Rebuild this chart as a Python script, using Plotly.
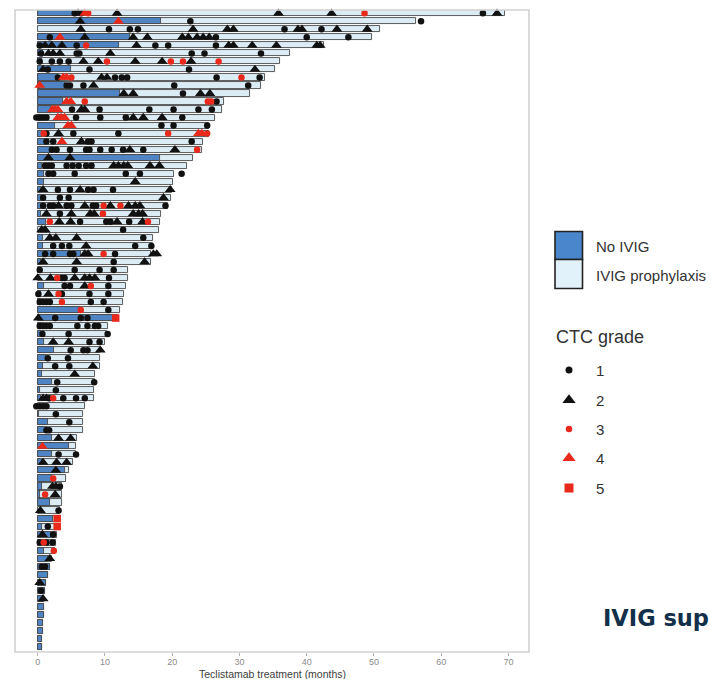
import plotly.graph_objects as go

# Swimmer plot: teclistamab treatment duration per patient, IVIG status and infection events
patients = list(range(1, 81))

treatment_months = [
    69.5, 56.3, 50.9, 49.7, 42.5, 37.5, 36.0, 35.3, 33.8, 33.2,
    31.5, 27.7, 27.4, 26.4, 25.5, 25.4, 24.6, 24.4, 23.1, 22.2,
    20.2, 20.1, 20.0, 19.8, 19.4, 18.4, 18.2, 18.0, 17.2, 17.1,
    16.9, 16.9, 13.5, 13.4, 13.1, 12.9, 12.7, 12.2, 12.0, 10.4,
    10.3, 10.0, 9.3, 9.3, 9.3, 8.5, 8.5, 8.3, 8.3, 7.0,
    6.8, 6.7, 6.7, 5.8, 5.7, 5.7, 5.2, 4.7, 4.2, 3.6,
    3.6, 3.6, 3.3, 3.3, 3.3, 2.9, 2.7, 2.6, 2.2, 1.8,
    1.6, 1.2, 1.1, 1.0, 0.9, 0.9, 0.8, 0.8, 0.7, 0.7,
]

# months before IVIG prophylaxis started (whole bar if never started)
no_ivig_months = [
    6.0, 18.3, 0.0, 13.7, 12.1, 0.8, 0.6, 4.9, 3.0, 4.0,
    12.2, 3.7, 2.0, 0.5, 2.5, 0.7, 1.2, 2.0, 18.2, 0.7,
    1.0, 1.0, 0.5, 0.7, 0.6, 0.5, 1.3, 0.0, 0.8, 0.8,
    6.5, 0.5, 0.0, 0.0, 0.9, 0.5, 0.5, 6.3, 11.2, 0.6,
    0.6, 0.9, 2.4, 1.2, 0.8, 0.7, 2.1, 0.3, 0.5, 0.0,
    0.2, 1.6, 1.3, 2.1, 4.6, 2.2, 0.6, 4.1, 2.2, 0.6,
    0.3, 1.8, 0.0, 2.3, 0.6, 2.0, 0.5, 1.0, 1.5, 1.8,
    1.6, 1.2, 1.1, 1.0, 0.9, 0.9, 0.8, 0.8, 0.7, 0.7,
]

# infection events as (patient, month) for each CTC grade
grade1_events = [
    (1, 5.5), (1, 6.5), (1, 66.2),
    (2, 22.7), (2, 57.0),
    (3, 10.6), (3, 13.7), (3, 14.9), (3, 36.7), (3, 42.2),
    (4, 1.8), (4, 26.5), (4, 40.0), (4, 46.2),
    (5, 0.3), (5, 5.8), (5, 17.5), (5, 19.4), (5, 26.5),
    (6, 0.5), (6, 5.8), (6, 6.2), (6, 22.9), (6, 24.8), (6, 33.2),
    (7, 0.3), (7, 2.1), (7, 3.3), (7, 4.6),
    (8, 1.5), (8, 7.7), (8, 22.5),
    (9, 3.0), (9, 11.5), (9, 12.5), (9, 13.3), (9, 26.6), (9, 33.0),
    (10, 4.3), (10, 4.8), (10, 6.8), (10, 20.3), (10, 31.3),
    (11, 21.6),
    (12, 26.6),
    (13, 5.1), (13, 9.2), (13, 16.6), (13, 20.2), (13, 23.9), (13, 25.9),
    (14, -0.2), (14, 0.3), (14, 0.8), (14, 1.3), (14, 5.7), (14, 9.3), (14, 13.1), (14, 21.5),
    (15, 18.4), (15, 20.2), (15, 25.2),
    (16, 1.3), (16, 5.3), (16, 12.0),
    (17, 1.3), (17, 2.3), (17, 7.5), (17, 8.0), (17, 22.9),
    (18, 2.1), (18, 2.8), (18, 4.8), (18, 7.2), (18, 7.7), (18, 9.3), (18, 11.0), (18, 12.7), (18, 15.7),
    (20, 1.1), (20, 1.6), (20, 2.1), (20, 4.3), (20, 5.2), (20, 6.1), (20, 7.2), (20, 8.0),
    (21, 1.6), (21, 2.3), (21, 5.5), (21, 13.1), (21, 15.2), (21, 21.4),
    (23, 3.0), (23, 4.8), (23, 7.5), (23, 8.3), (23, 11.2),
    (24, 0.8), (24, 3.3), (24, 4.6),
    (25, 0.8), (25, 1.8), (25, 2.3), (25, 4.3), (25, 5.0), (25, 8.2), (25, 8.7), (25, 19.0),
    (26, 3.3),
    (27, 6.3), (27, 10.2), (27, 10.8), (27, 13.6),
    (28, 12.7),
    (29, 15.7),
    (30, 2.3), (30, 3.6), (30, 4.7), (30, 14.5), (30, 16.9),
    (31, 1.1), (31, 2.3), (31, 4.8), (31, 5.3), (31, 11.5),
    (32, 11.3),
    (33, 0.3), (33, 5.5), (33, 9.2), (33, 11.3),
    (34, 3.6), (34, 4.0), (34, 10.6),
    (35, 4.0), (35, 4.8), (35, 10.5),
    (36, 0.1), (36, 3.6), (36, 7.7), (36, 10.5),
    (37, 0.3), (37, 0.8), (37, 1.3), (37, 1.8), (37, 7.9), (37, 9.8),
    (38, 10.5),
    (39, 2.6), (39, 6.4), (39, 7.4),
    (40, 0.3), (40, 0.8), (40, 1.3), (40, 1.8), (40, 5.9), (40, 7.4), (40, 8.5), (40, 9.0),
    (41, 0.7), (41, 4.6), (41, 10.4),
    (42, 7.7), (42, 9.2),
    (43, 4.9), (43, 6.8), (43, 7.4),
    (44, 1.5), (44, 4.5),
    (45, 2.6), (45, 4.7),
    (47, 2.9), (47, 8.4),
    (48, 2.7),
    (49, 1.7), (49, 3.8), (49, 5.7), (49, 7.0),
    (50, -0.2), (50, 0.3), (50, 0.8), (50, 1.3),
    (51, 2.7),
    (52, 4.7),
    (53, 1.3), (53, 1.7),
    (56, 3.1), (56, 5.7),
    (60, 3.3),
    (63, 3.1),
    (65, 1.5),
    (66, 2.3),
    (67, 0.3), (67, 1.3), (67, 2.2),
    (70, 0.6), (70, 1.1),
    (73, 0.5),
]

grade2_events = [
    (1, 6.0), (1, 11.8), (1, 35.8), (1, 43.7), (1, 68.3),
    (2, 6.3),
    (3, 6.4), (3, 23.1), (3, 28.2), (3, 29.1), (3, 38.7), (3, 39.3), (3, 44.5), (3, 49.0),
    (4, 7.0), (4, 14.2), (4, 16.3), (4, 21.5), (4, 22.4), (4, 23.7), (4, 24.6), (4, 25.5),
    (5, 1.1), (5, 2.1), (5, 3.6), (5, 14.7), (5, 28.4), (5, 29.1), (5, 31.9), (5, 35.5), (5, 41.5), (5, 42.0),
    (6, 1.6), (6, 2.3), (6, 3.3), (6, 10.8),
    (7, 6.8), (7, 9.0), (7, 14.5), (7, 18.5), (7, 22.8),
    (8, 0.8), (8, 32.3),
    (9, 9.5), (9, 10.3),
    (10, 8.3),
    (11, 12.8), (11, 14.2), (11, 24.2), (11, 25.6),
    (13, 6.5), (13, 7.0),
    (14, 14.2), (14, 15.7), (14, 18.5),
    (16, 3.1),
    (17, 6.5),
    (18, 13.7), (18, 20.4),
    (19, 1.6), (19, 4.8),
    (20, 11.3), (20, 12.0), (20, 12.8), (20, 13.4), (20, 16.7), (20, 18.1),
    (22, 14.5),
    (23, 0.8), (23, 6.3), (23, 19.7),
    (24, 18.7),
    (25, 3.1), (25, 7.0), (25, 10.8), (25, 13.5), (25, 14.5), (25, 15.2),
    (26, 1.3), (26, 5.0), (26, 7.8), (26, 8.4), (26, 14.2), (26, 15.0), (26, 15.6),
    (27, 3.2), (27, 4.9), (27, 11.8), (27, 15.6),
    (28, 0.6), (28, 1.1),
    (29, 1.8), (29, 2.7), (29, 5.8),
    (30, 7.2),
    (31, 7.0), (31, 7.5), (31, 17.2), (31, 17.7),
    (32, 0.8), (32, 5.8), (32, 15.9),
    (34, 0.0), (34, 1.9), (34, 5.5), (34, 7.0), (34, 7.7), (34, 8.5),
    (35, 7.0),
    (36, 1.6),
    (39, 0.1),
    (42, 2.3), (42, 4.6),
    (43, 9.3),
    (45, 8.2),
    (46, 5.5),
    (49, 0.8), (49, 1.3),
    (54, 3.1), (54, 4.9),
    (57, 0.8), (57, 2.8), (57, 4.3),
    (58, 2.7),
    (60, 2.2), (60, 2.7),
    (61, 2.6),
    (63, 0.4),
    (66, 0.7),
    (69, 1.8),
    (72, 0.3),
    (74, 0.8),
]

grade3_events = [
    (1, 7.5), (1, 48.6),
    (5, 7.2),
    (7, 10.3), (7, 19.8), (7, 21.6), (7, 26.9),
    (9, 5.0), (9, 30.3),
    (12, 7.0), (12, 25.3), (12, 25.8),
    (16, 0.9), (16, 19.4), (16, 25.2),
    (18, 23.7),
    (25, 9.8), (25, 12.3),
    (26, 9.7),
    (27, 1.8), (27, 16.4),
    (31, 9.8),
    (34, 2.9),
    (35, 7.9),
    (36, 3.1),
    (37, 3.6),
    (38, 6.4),
    (49, 2.3),
    (59, 2.3),
    (61, 1.1),
    (67, 0.9),
    (68, 2.4),
]

grade4_events = [
    (1, 7.0),
    (2, 12.0),
    (4, 3.3),
    (9, 3.8), (9, 4.3),
    (10, 0.3),
    (12, 4.3), (12, 4.9),
    (13, 2.2), (13, 2.6), (13, 3.0),
    (14, 3.0), (14, 3.5), (14, 4.0),
    (15, 4.5), (15, 5.0),
    (16, 23.9), (16, 24.4),
    (17, 3.6),
    (55, 0.7),
]

grade5_events = [
    (39, 11.6),
    (64, 2.9),
    (65, 2.9),
]

x_ticks = [0, 10, 20, 30, 40, 50, 60, 70]

grade_labels = ["1", "2", "3", "4", "5"]
grade_symbols = ["circle", "triangle-up", "circle", "triangle-up", "square"]
grade_colors = ["#111111", "#111111", "#e8291c", "#e8291c", "#e8291c"]
plot_sizes = [6.5, 9.5, 6.5, 9.5, 7.5]
key_sizes = [7, 11.5, 6.5, 11.5, 9]

NO_IVIG = "#4f85c4"
IVIG = "#dcecf5"
OUTLINE = "#4a4a4a"

W, H = 711, 679
PL, PR, PT, PB = 15, 529, 10, 652  # panel edges in pixels

fig = go.Figure()

# full treatment bar (IVIG prophylaxis colour), then the pre-IVIG segment on top
fig.add_trace(go.Bar(
    y=patients, x=treatment_months, base=0, orientation="h", width=0.76,
    marker=dict(color=IVIG, line=dict(color=OUTLINE, width=0.9)),
    showlegend=False, xaxis="x", yaxis="y",
))
fig.add_trace(go.Bar(
    y=patients, x=[v if v > 0 else None for v in no_ivig_months], base=0,
    orientation="h", width=0.76,
    marker=dict(color=NO_IVIG, line=dict(color=OUTLINE, width=0.9)),
    showlegend=False, xaxis="x", yaxis="y",
))

all_events = [grade1_events, grade2_events, grade3_events, grade4_events, grade5_events]
for events, sym, col, sz in zip(all_events, grade_symbols, grade_colors, plot_sizes):
    fig.add_trace(go.Scatter(
        x=[m for _, m in events], y=[p for p, _ in events], mode="markers",
        marker=dict(symbol=sym, color=col, size=sz, opacity=1, line=dict(width=0)),
        showlegend=False, xaxis="x", yaxis="y", cliponaxis=False,
    ))

# legend drawn on a pixel-space overlay axis
key_x = 569
key_ys = [370, 400, 429, 458, 488]
fig.add_trace(go.Scatter(
    x=[key_x] * 5, y=key_ys, mode="markers",
    marker=dict(symbol=grade_symbols, color=grade_colors, size=key_sizes,
                opacity=1, line=dict(width=0)),
    showlegend=False, xaxis="x2", yaxis="y2",
))

shapes = [
    dict(type="rect", xref="x domain", yref="y domain", x0=0, x1=1, y0=0, y1=1,
         line=dict(color="#d2d2d2", width=1.6), fillcolor="rgba(0,0,0,0)", layer="above"),
    dict(type="rect", xref="x2", yref="y2", x0=555, x1=582.5, y0=231.5, y1=259.5,
         fillcolor="#4a86cc", line=dict(color="#222222", width=1.6)),
    dict(type="rect", xref="x2", yref="y2", x0=555, x1=582.5, y0=259.5, y1=288.5,
         fillcolor="#e2f2fa", line=dict(color="#222222", width=1.6)),
]

TXT = "#333333"
annotations = [
    dict(x=594, y=246, xref="x2", yref="y2", text="No IVIG", showarrow=False,
         xanchor="left", yanchor="middle", font=dict(size=15, color=TXT)),
    dict(x=594, y=275, xref="x2", yref="y2", text="IVIG prophylaxis", showarrow=False,
         xanchor="left", yanchor="middle", font=dict(size=15, color=TXT)),
    dict(x=554, y=337, xref="x2", yref="y2", text="CTC grade", showarrow=False,
         xanchor="left", yanchor="middle", font=dict(size=18, color=TXT)),
    dict(x=272, y=674, xref="x2", yref="y2", text="Teclistamab treatment (months)",
         showarrow=False, xanchor="center", yanchor="middle",
         font=dict(size=10.5, color="#404040")),
    dict(x=601, y=618, xref="x2", yref="y2", text="<b>IVIG sup</b>",
         showarrow=False, xanchor="left", yanchor="middle",
         font=dict(size=22.5, color="#13304a", family="DejaVu Sans")),
]
for lab, yy in zip(grade_labels, key_ys):
    annotations.append(dict(x=594, y=yy, xref="x2", yref="y2", text=lab, showarrow=False,
                            xanchor="left", yanchor="middle", font=dict(size=15, color=TXT)))

zero_px, per_month = 37.7, 6.725
x_range = [(PL - zero_px) / per_month, (PR - zero_px) / per_month]
row_px = 8.02
first_row_px = 13.3
y_range = [1 + (PB - first_row_px) / row_px, 1 - (first_row_px - PT) / row_px]

fig.update_layout(
    template="none",
    width=W, height=H,
    margin=dict(l=0, r=0, t=0, b=0, pad=0),
    paper_bgcolor="white", plot_bgcolor="rgba(0,0,0,0)",
    font=dict(family="Liberation Sans, Arial, sans-serif", color=TXT),
    barmode="overlay", bargap=0,
    showlegend=False,
    xaxis=dict(domain=[PL / W, PR / W], range=x_range, anchor="y",
               tickvals=x_ticks, ticks="outside", ticklen=3, tickwidth=1,
               tickcolor="#b5b5b5", tickfont=dict(size=9, color="#8c8c8c"),
               ticklabelstandoff=-2,
               showgrid=False, zeroline=False, showline=False, automargin=False,
               fixedrange=True),
    yaxis=dict(domain=[1 - PB / H, 1 - PT / H], range=y_range, anchor="x",
               showticklabels=False, ticks="", showgrid=False, zeroline=False,
               showline=False, automargin=False, fixedrange=True),
    xaxis2=dict(domain=[0, 1], range=[0, W], anchor="y2", visible=False, fixedrange=True),
    yaxis2=dict(domain=[0, 1], range=[H, 0], anchor="x2", visible=False, fixedrange=True),
    shapes=shapes,
    annotations=annotations,
)

fig.write_html("out.html")
